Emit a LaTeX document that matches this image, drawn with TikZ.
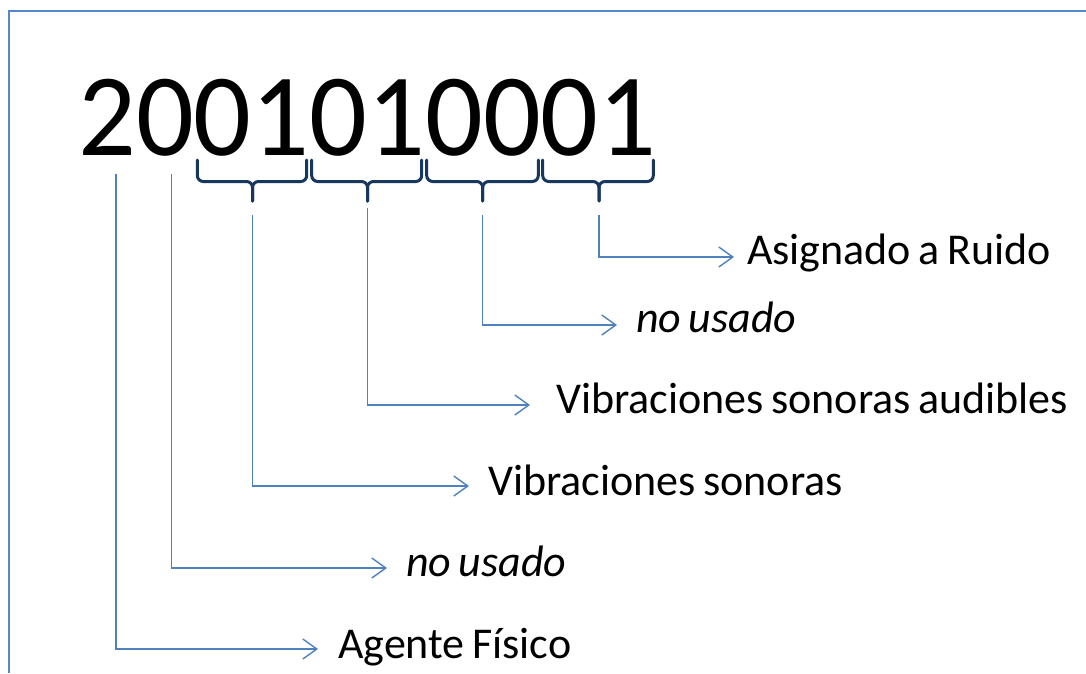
\documentclass[tikz,border=0pt]{standalone}
\usepackage{fontspec}
\setmainfont{Carlito}
\newfontfamily\labfont[WordSpace=0.75]{Carlito}
\newfontfamily\numfont[FakeStretch=0.97]{Carlito}
\usetikzlibrary{arrows.meta}
\definecolor{framec}{RGB}{84,136,200}
\definecolor{connc}{RGB}{79,129,189}
\definecolor{bracec}{RGB}{23,55,94}
\tikzset{
  framestyle/.style={draw=framec, line width=2pt},
  bracestyle/.style={draw=bracec, line width=3pt, rounded corners=6pt, line cap=round},
  conn/.style={draw=connc, line width=1.4pt, -{Straight Barb[length=14pt,width=20pt,line width=1.4pt]}},
  lab/.style={inner sep=0pt, anchor=base west, font=\labfont\fontsize{44}{44}\selectfont},
  num/.style={inner sep=0pt, anchor=base west, font=\numfont\fontsize{117.6}{117.6}\selectfont}
}
\newcommand\underbr[3]{%
  \draw[bracestyle] (#1,160) |- (#3,181.5) -- (#3,201);
  \draw[bracestyle] (#2,160) |- (#3,181.5) -- (#3,201);
}
\begin{document}
\begin{tikzpicture}[x=1pt,y=-1pt]
\useasboundingbox (0,0) rectangle (1086,673);
\draw[framestyle] (8.5,673) -- (8.5,10.5) -- (1086,10.5);
\node[num] (number) at (78,155) {2001010001};
% braces
\underbr{197.3}{306.7}{252.5}
\underbr{311.7}{421.7}{367.5}
\underbr{426.7}{538.3}{482.7}
\underbr{542.7}{653.3}{599}
\coordinate (s1) at (599,215);
\coordinate (s2) at (482.7,215);
\coordinate (s3) at (367.5,208);
\coordinate (s4) at (252.5,215);
\coordinate (s5) at (171.7,174);
\coordinate (s6) at (116,174);
% labels
\node[lab] (l1) at (747,264) {Asignado a Ruido};
\node[lab] (l2) at (636,332) {\itshape no usado};
\node[lab] (l3) at (556,413) {Vibraciones sonoras audibles};
\node[lab] (l4) at (488,495) {Vibraciones sonoras};
\node[lab] (l5) at (406,576) {\itshape no usado};
\node[lab] (l6) at (338,658) {Agente Físico};
% connectors
\draw[conn] (s1) |- ([xshift=-13pt,yshift=7pt]l1.base west);
\draw[conn] (s2) |- ([xshift=-19pt,yshift=7pt]l2.base west);
\draw[conn] (s3) |- ([xshift=-26pt,yshift=8pt]l3.base west);
\draw[conn] (s4) |- ([xshift=-19pt,yshift=9pt]l4.base west);
\draw[conn] (s5) |- ([xshift=-19pt,yshift=8pt]l5.base west);
\draw[conn] (s6) |- ([xshift=-20pt,yshift=9pt]l6.base west);
\end{tikzpicture}
\end{document}
